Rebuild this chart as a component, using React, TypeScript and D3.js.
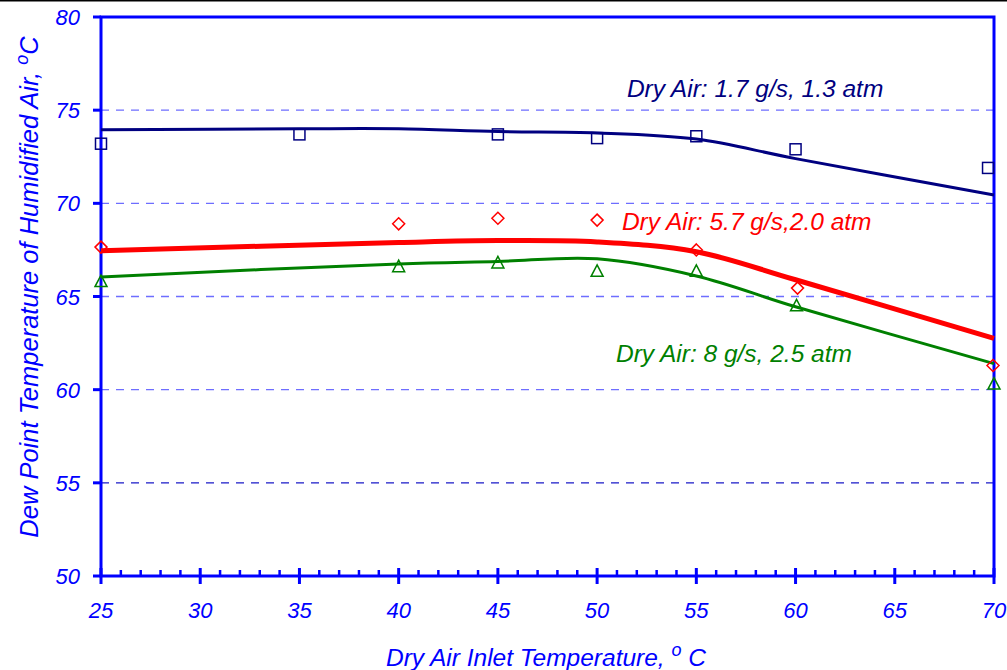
import React from "react";
import * as d3 from "d3";

const xTicks = [25, 30, 35, 40, 45, 50, 55, 60, 65, 70];
const yTicks = [50, 55, 60, 65, 70, 75, 80];
const gridValues = [55, 60, 65, 70, 75];

// Series 1: Dry Air 1.7 g/s, 1.3 atm (squares + smoothed fit)
const blueMarkX = [25, 35, 45, 50, 55, 60, 69.7];
const blueMarkY = [73.2, 73.7, 73.7, 73.5, 73.6, 72.9, 71.9];
const blueFitX = [25, 35, 40, 45, 50, 55, 60, 70];
const blueFitY = [73.95, 74.0, 74.0, 73.85, 73.78, 73.45, 72.4, 70.45];

// Series 2: Dry Air 5.7 g/s, 2.0 atm (diamonds + smoothed fit)
const redMarkX = [25, 40, 45, 50, 55, 60.1, 69.95];
const redMarkY = [67.65, 68.9, 69.2, 69.1, 67.5, 65.45, 61.3];
const redFitX = [25, 40, 45, 50, 55, 60, 70];
const redFitY = [67.45, 67.9, 68.0, 67.93, 67.4, 65.9, 62.75];

// Series 3: Dry Air 8 g/s, 2.5 atm (triangles + smoothed fit)
const greenMarkX = [25, 40, 45, 50, 55, 60.05, 70];
const greenMarkY = [65.8, 66.6, 66.8, 66.35, 66.35, 64.5, 60.3];
const greenFitX = [25, 40, 45, 50, 55, 60, 70];
const greenFitY = [66.05, 66.75, 66.88, 67.02, 66.1, 64.45, 61.4];

const FONT = "'Liberation Sans', Arial, sans-serif";
const AXIS_BLUE = "#0000ff";

export default function App() {
  const W = 1007;
  const H = 670;
  const x = d3.scaleLinear().domain([25, 70]).range([101, 994]);
  const y = d3.scaleLinear().domain([50, 80]).range([576, 17]);

  const line = d3
    .line<[number, number]>()
    .x((d) => x(d[0]))
    .y((d) => y(d[1]))
    .curve(d3.curveCatmullRom.alpha(0.5));

  const zip = (a: number[], b: number[]) => a.map((v, i) => [v, b[i]] as [number, number]);

  const minor = d3.range(25, 71, 1).filter((v) => v % 5 !== 0);

  const s = 5.5;
  const diamond = (cx: number, cy: number) =>
    `M${cx},${cy - 6}L${cx + 6},${cy}L${cx},${cy + 6}L${cx - 6},${cy}Z`;
  const tri = (cx: number, cy: number) =>
    `M${cx},${cy - 6.5}L${cx + 6},${cy + 5}L${cx - 6},${cy + 5}Z`;

  return (
    <svg
      width={W}
      height={H}
      style={{ position: "absolute", left: 0, top: 0, background: "#fff" }}
      fontFamily={FONT}
    >
      <rect x={0} y={0} width={W} height={H} fill="#fff" />
      <line x1={0} x2={W} y1={0.5} y2={0.5} stroke="#000" strokeWidth={2} />

      {/* grid */}
      {gridValues.map((g) => (
        <line
          key={g}
          x1={x(25)}
          x2={x(70)}
          y1={y(g)}
          y2={y(g)}
          stroke={g === 55 ? "#1a1ac8" : "#6e6eff"}
          strokeWidth={1.3}
          strokeDasharray="8,7"
        />
      ))}

      {/* frame */}
      <rect
        x={x(25)}
        y={y(80)}
        width={x(70) - x(25)}
        height={y(50) - y(80)}
        fill="none"
        stroke={AXIS_BLUE}
        strokeWidth={3}
      />

      {/* y ticks */}
      {yTicks.map((t) => (
        <g key={t}>
          <line x1={x(25) - 8} x2={x(25)} y1={y(t)} y2={y(t)} stroke={AXIS_BLUE} strokeWidth={3} />
          <text
            x={80}
            y={y(t) + 8}
            textAnchor="end"
            fontSize={22}
            fontStyle="italic"
            fill={AXIS_BLUE}
          >
            {t}
          </text>
        </g>
      ))}

      {/* x ticks */}
      {xTicks.map((t) => (
        <g key={t}>
          <line x1={x(t)} x2={x(t)} y1={y(50) - 8} y2={y(50) + 8} stroke={AXIS_BLUE} strokeWidth={3} />
          <text
            x={x(t)}
            y={618}
            textAnchor="middle"
            fontSize={22}
            fontStyle="italic"
            fill={AXIS_BLUE}
          >
            {t}
          </text>
        </g>
      ))}
      {minor.map((t) => (
        <line key={t} x1={x(t)} x2={x(t)} y1={y(50) - 6} y2={y(50)} stroke={AXIS_BLUE} strokeWidth={2.5} />
      ))}

      {/* fitted curves */}
      <path d={line(zip(blueFitX, blueFitY)) || ""} fill="none" stroke="#000080" strokeWidth={3} />
      <path d={line(zip(greenFitX, greenFitY)) || ""} fill="none" stroke="#008000" strokeWidth={3} />
      <path d={line(zip(redFitX, redFitY)) || ""} fill="none" stroke="#ff0000" strokeWidth={5} />

      {/* markers */}
      {blueMarkX.map((v, i) => (
        <rect
          key={"b" + i}
          x={x(v) - s}
          y={y(blueMarkY[i]) - s}
          width={2 * s}
          height={2 * s}
          fill="none"
          stroke="#000080"
          strokeWidth={1.5}
        />
      ))}
      {redMarkX.map((v, i) => (
        <path key={"r" + i} d={diamond(x(v), y(redMarkY[i]))} fill="none" stroke="#ff0000" strokeWidth={1.5} />
      ))}
      {greenMarkX.map((v, i) => (
        <path key={"g" + i} d={tri(x(v), y(greenMarkY[i]))} fill="none" stroke="#008000" strokeWidth={1.5} />
      ))}

      {/* annotations */}
      <text x={x(51.5)} y={y(75.7)} fontSize={24.5} fontStyle="italic" fill="#000080">
        Dry Air: 1.7 g/s, 1.3 atm
      </text>
      <text x={x(51.25)} y={y(68.57)} fontSize={24.5} fontStyle="italic" fill="#ff0000">
        Dry Air: 5.7 g/s,2.0 atm
      </text>
      <text x={x(50.95)} y={y(61.48)} fontSize={24.5} fontStyle="italic" fill="#008000">
        Dry Air: 8 g/s, 2.5 atm
      </text>

      {/* axis titles */}
      <text
        transform={`translate(38, 287) rotate(-90)`}
        textAnchor="middle"
        fontSize={25.5}
        fontStyle="italic"
        fill={AXIS_BLUE}
      >
        Dew Point Temperature of Humidified Air,{" "}
        <tspan fontSize={18} dy={-10}>o</tspan>
        <tspan dy={10}>C</tspan>
      </text>
      <text x={546} y={666} textAnchor="middle" fontSize={24.5} fontStyle="italic" fill={AXIS_BLUE}>
        Dry Air Inlet Temperature,{" "}
        <tspan fontSize={18} dy={-10}>o</tspan>
        <tspan dy={10}> C</tspan>
      </text>
    </svg>
  );
}
